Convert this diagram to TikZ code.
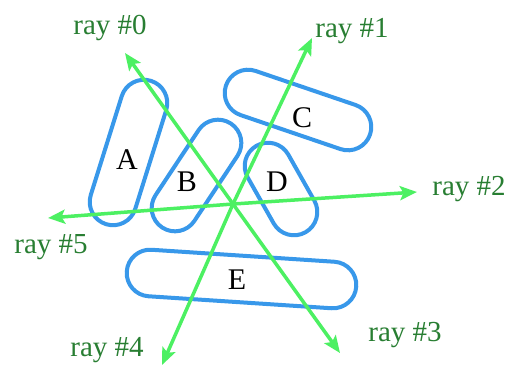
\documentclass[tikz,border=0pt]{standalone}
\usepackage{fontspec}
\setmainfont{Liberation Serif}
\usetikzlibrary{arrows.meta}
\definecolor{capsule}{RGB}{56,152,234}
\definecolor{raygreen}{RGB}{76,240,98}
\definecolor{raytext}{RGB}{40,126,50}
\tikzset{
  capsuleline/.style={draw=capsule, line width=4pt},
  pics/stadium/.style args={#1/#2}{code={
    \draw[capsuleline] (-#1,#2) -- (#1,#2) arc (90:-90:#2) -- (-#1,-#2) arc (270:90:#2) -- cycle;}},
  rayline/.style={draw=raygreen, line width=3.5pt, -{Stealth[length=17pt,width=14pt,inset=3.5pt]}},
  raylabel/.style={text=raytext, font=\fontsize{29}{32}\selectfont, inner sep=0pt},
  boxlabel/.style={text=black, font=\fontsize{30}{32}\selectfont, inner sep=0pt}
}
\begin{document}
\begin{tikzpicture}[x=1pt,y=1pt]
\useasboundingbox (0,0) rectangle (513,-368);
\fill[white] (0,0) rectangle (513,-368);

% capsules: centre, axis angle, half length / radius
\pic[rotate=72.6]  at (128.5,-152.5) {stadium=51.8/23.3};
\pic[rotate=56.5]  at (196.5,-175.5) {stadium=39/23.3};
\pic[rotate=-18.8] at (298,-110)     {stadium=52.8/23.3};
\pic[rotate=-60.5] at (281,-189)     {stadium=26.4/23.3};
\pic[rotate=-3.75] at (241.5,-279)   {stadium=91.7/23.3};

% capsule letters
\node[boxlabel] (A) at (127,-160) {A};
\node[boxlabel] (B) at (187,-182) {B};
\node[boxlabel] (C) at (302,-118) {C};
\node[boxlabel] (D) at (277,-182) {D};
\node[boxlabel] (E) at (237,-280) {E};

% rays from the common origin
\coordinate (O) at (233,-204);
\coordinate (t0) at (125,-53);
\coordinate (t1) at (312,-38);
\coordinate (t2) at (417,-192);
\coordinate (t3) at (340,-353);
\coordinate (t4) at (162,-365);
\coordinate (t5) at (48,-218);
\foreach \t in {t0,t1,t2,t3,t4,t5} \draw[rayline] (O) -- (\t);

% ray labels
\node[raylabel] (r0) at (110,-28)  {ray \#0};
\node[raylabel] (r1) at (352,-31)  {ray \#1};
\node[raylabel] (r2) at (469,-189) {ray \#2};
\node[raylabel] (r3) at (405,-335) {ray \#3};
\node[raylabel] (r4) at (107,-350) {ray \#4};
\node[raylabel] (r5) at (51,-247)  {ray \#5};
\end{tikzpicture}
\end{document}
